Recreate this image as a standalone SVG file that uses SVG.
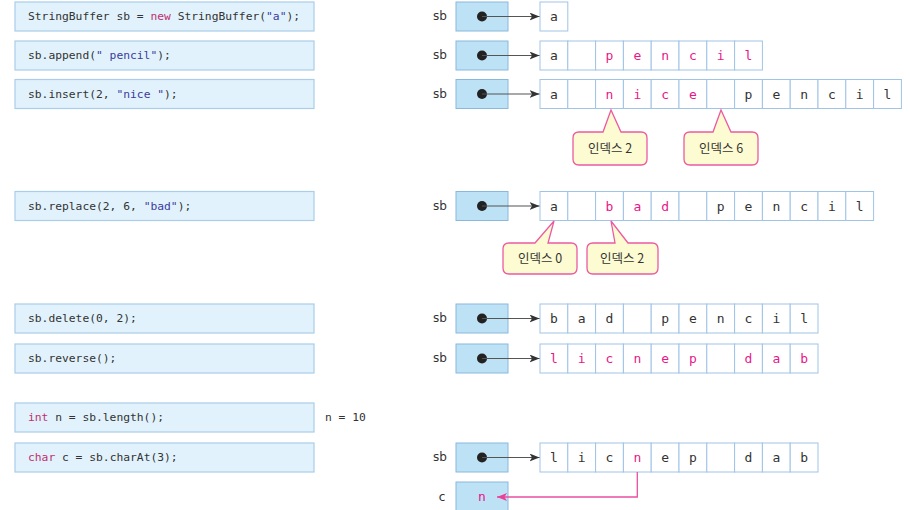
<svg xmlns="http://www.w3.org/2000/svg" width="910" height="510" viewBox="0 0 910 510">
<style>
.code{fill:#e1f2fc;stroke:#a9cdea;stroke-width:1.2}
.ct{font-family:"DejaVu Sans Mono","Liberation Mono",monospace;font-size:11.3px;fill:#333}
.kw{fill:#c0306e}
.st{fill:#3b3b9c}
.ptr{fill:#bde2f5;stroke:#8ab8dc;stroke-width:1}
.cell{fill:#fff;stroke:#9fc4e6;stroke-width:1}
.lbl{font-family:"DejaVu Sans","Liberation Sans",sans-serif;font-size:12px;fill:#333;text-anchor:middle}
.ch{font-family:"DejaVu Sans Mono","Liberation Mono",monospace;font-size:13px;fill:#333;text-anchor:middle}
.pk{fill:#e8178a}
.dot{fill:#222}
.arr{stroke:#555;stroke-width:1.2;fill:none;marker-end:url(#ah)}
.parr{stroke:#ec4ea1;stroke-width:1.3;fill:none;marker-end:url(#ph)}
.call{fill:#fdfbd2;stroke:#ec5aa2;stroke-width:1.3}
.ctx{font-family:"Noto Sans CJK KR","Noto Sans",sans-serif;font-size:12.5px;fill:#333;text-anchor:middle}
</style>
<defs>
<marker id="ah" markerWidth="10" markerHeight="8" refX="10" refY="4" orient="auto" markerUnits="userSpaceOnUse">
<path d="M0,0 L10,4 L0,8 L2.5,4 Z" fill="#333"/>
</marker>
<marker id="ph" markerWidth="10" markerHeight="8" refX="10" refY="4" orient="auto" markerUnits="userSpaceOnUse">
<path d="M0,0 L10,4 L0,8 L2.5,4 Z" fill="#ec3f97"/>
</marker>
</defs>

<!-- code boxes -->
<g id="code1"><rect class="code" x="15" y="2" width="299" height="29"/><text class="ct" x="28" y="20">StringBuffer sb = <tspan class="kw">new</tspan> StringBuffer(<tspan class="st">"a"</tspan>);</text></g>
<g id="code2"><rect class="code" x="15" y="41" width="299" height="29"/><text class="ct" x="28" y="59">sb.append(<tspan class="st">" pencil"</tspan>);</text></g>
<g id="code3"><rect class="code" x="15" y="79.5" width="299" height="29"/><text class="ct" x="28" y="97.5">sb.insert(2, <tspan class="st">"nice "</tspan>);</text></g>
<g id="code4"><rect class="code" x="15" y="191.5" width="299" height="29"/><text class="ct" x="28" y="209.5">sb.replace(2, 6, <tspan class="st">"bad"</tspan>);</text></g>
<g id="code5"><rect class="code" x="15" y="304" width="299" height="29"/><text class="ct" x="28" y="322">sb.delete(0, 2);</text></g>
<g id="code6"><rect class="code" x="15" y="344" width="299" height="29"/><text class="ct" x="28" y="362">sb.reverse();</text></g>
<g id="code7"><rect class="code" x="15" y="403" width="299" height="29"/><text class="ct" x="28" y="421"><tspan class="kw">int</tspan> n = sb.length();</text></g>
<g id="code8"><rect class="code" x="15" y="443" width="299" height="29"/><text class="ct" x="28" y="461"><tspan class="kw">char</tspan> c = sb.charAt(3);</text></g>
<g id="nval"><text class="ct" x="325" y="421">n = 10</text></g>

<!-- row 1 -->
<g id="sb1">
<text class="lbl" x="440" y="20">sb</text>
<rect class="ptr" x="456" y="2" width="52" height="29"/><circle class="dot" cx="482" cy="16.5" r="5"/>
</g>
<g id="arr1">
<rect class="cell" x="540" y="2" width="27.8" height="29"/><text class="ch" x="553.9" y="21">a</text>
</g>

<!-- row 2 -->
<g id="sb2">
<text class="lbl" x="440" y="59">sb</text>
<rect class="ptr" x="456" y="41" width="52" height="29"/><circle class="dot" cx="482" cy="55.5" r="5"/>
</g>
<g id="arr2">
<rect class="cell" x="540" y="41" width="27.8" height="29"/><text class="ch" x="553.9" y="60">a</text>
<rect class="cell" x="567.8" y="41" width="27.8" height="29"/>
<rect class="cell" x="595.6" y="41" width="27.8" height="29"/><text class="ch pk" x="609.5" y="60">p</text>
<rect class="cell" x="623.4" y="41" width="27.8" height="29"/><text class="ch pk" x="637.3" y="60">e</text>
<rect class="cell" x="651.2" y="41" width="27.8" height="29"/><text class="ch pk" x="665.1" y="60">n</text>
<rect class="cell" x="679" y="41" width="27.8" height="29"/><text class="ch pk" x="692.9" y="60">c</text>
<rect class="cell" x="706.8" y="41" width="27.8" height="29"/><text class="ch pk" x="720.7" y="60">i</text>
<rect class="cell" x="734.6" y="41" width="27.8" height="29"/><text class="ch pk" x="748.5" y="60">l</text>
</g>

<!-- row 3 -->
<g id="sb3">
<text class="lbl" x="440" y="97.5">sb</text>
<rect class="ptr" x="456" y="79.5" width="52" height="29"/><circle class="dot" cx="482" cy="94" r="5"/>
</g>
<g id="arr3">
<rect class="cell" x="540" y="79.5" width="27.8" height="29"/><text class="ch" x="553.9" y="98.5">a</text>
<rect class="cell" x="567.8" y="79.5" width="27.8" height="29"/>
<rect class="cell" x="595.6" y="79.5" width="27.8" height="29"/><text class="ch pk" x="609.5" y="98.5">n</text>
<rect class="cell" x="623.4" y="79.5" width="27.8" height="29"/><text class="ch pk" x="637.3" y="98.5">i</text>
<rect class="cell" x="651.2" y="79.5" width="27.8" height="29"/><text class="ch pk" x="665.1" y="98.5">c</text>
<rect class="cell" x="679" y="79.5" width="27.8" height="29"/><text class="ch pk" x="692.9" y="98.5">e</text>
<rect class="cell" x="706.8" y="79.5" width="27.8" height="29"/>
<rect class="cell" x="734.6" y="79.5" width="27.8" height="29"/><text class="ch" x="748.5" y="98.5">p</text>
<rect class="cell" x="762.4" y="79.5" width="27.8" height="29"/><text class="ch" x="776.3" y="98.5">e</text>
<rect class="cell" x="790.2" y="79.5" width="27.8" height="29"/><text class="ch" x="804.1" y="98.5">n</text>
<rect class="cell" x="818" y="79.5" width="27.8" height="29"/><text class="ch" x="831.9" y="98.5">c</text>
<rect class="cell" x="845.8" y="79.5" width="27.8" height="29"/><text class="ch" x="859.7" y="98.5">i</text>
<rect class="cell" x="873.6" y="79.5" width="27.8" height="29"/><text class="ch" x="887.5" y="98.5">l</text>
</g>
<g id="callout1">
<path class="call" d="M579,132 H603 L611,110 L621,132 H641 Q647,132 647,138 V159 Q647,165 641,165 H579 Q573,165 573,159 V138 Q573,132 579,132 Z"/>
<text class="ctx" x="610" y="153">인덱스 2</text>
</g>
<g id="callout2">
<path class="call" d="M690,132 H713 L721,110 L731,132 H752 Q758,132 758,138 V159 Q758,165 752,165 H690 Q684,165 684,159 V138 Q684,132 690,132 Z"/>
<text class="ctx" x="721" y="153">인덱스 6</text>
</g>

<!-- replace row -->
<g id="sb4">
<text class="lbl" x="440" y="209.5">sb</text>
<rect class="ptr" x="456" y="191.5" width="52" height="29"/><circle class="dot" cx="482" cy="206" r="5"/>
</g>
<g id="arr4">
<rect class="cell" x="540" y="191.5" width="27.8" height="29"/><text class="ch" x="553.9" y="210.5">a</text>
<rect class="cell" x="567.8" y="191.5" width="27.8" height="29"/>
<rect class="cell" x="595.6" y="191.5" width="27.8" height="29"/><text class="ch pk" x="609.5" y="210.5">b</text>
<rect class="cell" x="623.4" y="191.5" width="27.8" height="29"/><text class="ch pk" x="637.3" y="210.5">a</text>
<rect class="cell" x="651.2" y="191.5" width="27.8" height="29"/><text class="ch pk" x="665.1" y="210.5">d</text>
<rect class="cell" x="679" y="191.5" width="27.8" height="29"/>
<rect class="cell" x="706.8" y="191.5" width="27.8" height="29"/><text class="ch" x="720.7" y="210.5">p</text>
<rect class="cell" x="734.6" y="191.5" width="27.8" height="29"/><text class="ch" x="748.5" y="210.5">e</text>
<rect class="cell" x="762.4" y="191.5" width="27.8" height="29"/><text class="ch" x="776.3" y="210.5">n</text>
<rect class="cell" x="790.2" y="191.5" width="27.8" height="29"/><text class="ch" x="804.1" y="210.5">c</text>
<rect class="cell" x="818" y="191.5" width="27.8" height="29"/><text class="ch" x="831.9" y="210.5">i</text>
<rect class="cell" x="845.8" y="191.5" width="27.8" height="29"/><text class="ch" x="859.7" y="210.5">l</text>
</g>
<g id="callout3">
<path class="call" d="M509,243 H535 L554,221 L548,243 H571 Q577,243 577,249 V268 Q577,274 571,274 H509 Q503,274 503,268 V249 Q503,243 509,243 Z"/>
<text class="ctx" x="540" y="263">인덱스 0</text>
</g>
<g id="callout4">
<path class="call" d="M593,243 H615 L611,221 L628,243 H652 Q658,243 658,249 V268 Q658,274 652,274 H593 Q587,274 587,268 V249 Q587,243 593,243 Z"/>
<text class="ctx" x="622" y="263">인덱스 2</text>
</g>

<!-- delete row -->
<g id="sb5">
<text class="lbl" x="440" y="322">sb</text>
<rect class="ptr" x="456" y="304" width="52" height="29"/><circle class="dot" cx="482" cy="318.5" r="5"/>
</g>
<g id="arr5">
<rect class="cell" x="540" y="304" width="27.8" height="29"/><text class="ch" x="553.9" y="323">b</text>
<rect class="cell" x="567.8" y="304" width="27.8" height="29"/><text class="ch" x="581.7" y="323">a</text>
<rect class="cell" x="595.6" y="304" width="27.8" height="29"/><text class="ch" x="609.5" y="323">d</text>
<rect class="cell" x="623.4" y="304" width="27.8" height="29"/>
<rect class="cell" x="651.2" y="304" width="27.8" height="29"/><text class="ch" x="665.1" y="323">p</text>
<rect class="cell" x="679" y="304" width="27.8" height="29"/><text class="ch" x="692.9" y="323">e</text>
<rect class="cell" x="706.8" y="304" width="27.8" height="29"/><text class="ch" x="720.7" y="323">n</text>
<rect class="cell" x="734.6" y="304" width="27.8" height="29"/><text class="ch" x="748.5" y="323">c</text>
<rect class="cell" x="762.4" y="304" width="27.8" height="29"/><text class="ch" x="776.3" y="323">i</text>
<rect class="cell" x="790.2" y="304" width="27.8" height="29"/><text class="ch" x="804.1" y="323">l</text>
</g>

<!-- reverse row -->
<g id="sb6">
<text class="lbl" x="440" y="362">sb</text>
<rect class="ptr" x="456" y="344" width="52" height="29"/><circle class="dot" cx="482" cy="358.5" r="5"/>
</g>
<g id="arr6">
<rect class="cell" x="540" y="344" width="27.8" height="29"/><text class="ch pk" x="553.9" y="363">l</text>
<rect class="cell" x="567.8" y="344" width="27.8" height="29"/><text class="ch pk" x="581.7" y="363">i</text>
<rect class="cell" x="595.6" y="344" width="27.8" height="29"/><text class="ch pk" x="609.5" y="363">c</text>
<rect class="cell" x="623.4" y="344" width="27.8" height="29"/><text class="ch pk" x="637.3" y="363">n</text>
<rect class="cell" x="651.2" y="344" width="27.8" height="29"/><text class="ch pk" x="665.1" y="363">e</text>
<rect class="cell" x="679" y="344" width="27.8" height="29"/><text class="ch pk" x="692.9" y="363">p</text>
<rect class="cell" x="706.8" y="344" width="27.8" height="29"/>
<rect class="cell" x="734.6" y="344" width="27.8" height="29"/><text class="ch pk" x="748.5" y="363">d</text>
<rect class="cell" x="762.4" y="344" width="27.8" height="29"/><text class="ch pk" x="776.3" y="363">a</text>
<rect class="cell" x="790.2" y="344" width="27.8" height="29"/><text class="ch pk" x="804.1" y="363">b</text>
</g>

<!-- charAt row -->
<g id="sb7">
<text class="lbl" x="440" y="461">sb</text>
<rect class="ptr" x="456" y="443" width="52" height="29"/><circle class="dot" cx="482" cy="457.5" r="5"/>
</g>
<g id="arr7">
<rect class="cell" x="540" y="443" width="27.8" height="29"/><text class="ch" x="553.9" y="462">l</text>
<rect class="cell" x="567.8" y="443" width="27.8" height="29"/><text class="ch" x="581.7" y="462">i</text>
<rect class="cell" x="595.6" y="443" width="27.8" height="29"/><text class="ch" x="609.5" y="462">c</text>
<rect class="cell" x="623.4" y="443" width="27.8" height="29"/><text class="ch pk" x="637.3" y="462">n</text>
<rect class="cell" x="651.2" y="443" width="27.8" height="29"/><text class="ch" x="665.1" y="462">e</text>
<rect class="cell" x="679" y="443" width="27.8" height="29"/><text class="ch" x="692.9" y="462">p</text>
<rect class="cell" x="706.8" y="443" width="27.8" height="29"/>
<rect class="cell" x="734.6" y="443" width="27.8" height="29"/><text class="ch" x="748.5" y="462">d</text>
<rect class="cell" x="762.4" y="443" width="27.8" height="29"/><text class="ch" x="776.3" y="462">a</text>
<rect class="cell" x="790.2" y="443" width="27.8" height="29"/><text class="ch" x="804.1" y="462">b</text>
</g>
<g id="cvar">
<text class="lbl" x="442" y="501">c</text>
<rect class="ptr" x="456" y="482" width="52" height="29"/>
<text class="ch pk" x="482" y="501">n</text>
</g>

<!-- connectors -->
<g id="connectors">
<line class="arr" x1="482" y1="16.5" x2="539.5" y2="16.5"/>
<line class="arr" x1="482" y1="55.5" x2="539.5" y2="55.5"/>
<line class="arr" x1="482" y1="94" x2="539.5" y2="94"/>
<line class="arr" x1="482" y1="206" x2="539.5" y2="206"/>
<line class="arr" x1="482" y1="318.5" x2="539.5" y2="318.5"/>
<line class="arr" x1="482" y1="358.5" x2="539.5" y2="358.5"/>
<line class="arr" x1="482" y1="457.5" x2="539.5" y2="457.5"/>
<path class="parr" d="M637.3,472 V497 H497"/>
</g>
</svg>
